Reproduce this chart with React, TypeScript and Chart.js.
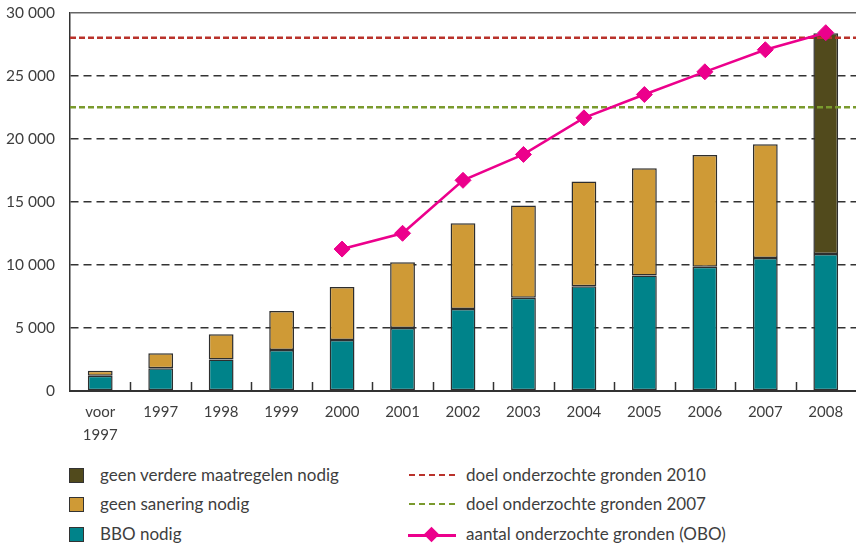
import React, { useEffect, useRef } from 'react';
import { Chart, registerables } from 'chart.js';

Chart.register(...registerables);

// ---- data ----
const categories: (string | string[])[] = [
  ['voor', '1997'], '1997', '1998', '1999', '2000', '2001', '2002',
  '2003', '2004', '2005', '2006', '2007', '2008',
];
const bboNodig = [1200, 1800, 2500, 3250, 4050, 5000, 6500, 7400, 8300, 9150, 9850, 10550, 10850];
const geenSanering = [400, 1200, 2000, 3100, 4200, 5200, 6800, 7300, 8300, 8500, 8850, 9000, null];
const geenVerdere = [null, null, null, null, null, null, null, null, null, null, null, null, 17500];
const onderzochteGronden = [null, null, null, null, 11250, 12500, 16700, 18750, 21650, 23500, 25300, 27050, 28400];
const doel2010 = 28000;
const doel2007 = 22500;
const yMin = 0;
const yMax = 30000;
const yStep = 5000;

const labels = {
  verdere: 'geen verdere maatregelen nodig',
  sanering: 'geen sanering nodig',
  bbo: 'BBO nodig',
  doel2010: 'doel onderzochte gronden 2010',
  doel2007: 'doel onderzochte gronden 2007',
  obo: 'aantal onderzochte gronden (OBO)',
};

const colors = {
  verdere: '#514a1c',
  sanering: '#cf9a36',
  bbo: '#00838a',
  doel2010: '#b9322b',
  doel2007: '#7a9a2e',
  obo: '#ec008c',
  barBorder: '#2e2e2e',
};

const FONT = 'Lato, "Open Sans", sans-serif';
const TEXT = '#3e3e3e';

const fmt = (v: number) => String(v).replace(/\B(?=(\d{3})+(?!\d))/g, ' ');

const innerTicks = {
  id: 'innerTicks',
  afterDatasetsDraw(chart: any) {
    const x = chart.scales.x;
    const area = chart.chartArea;
    const ctx = chart.ctx;
    ctx.save();
    ctx.strokeStyle = '#333';
    ctx.lineWidth = 1.5;
    for (let i = 1; i < categories.length; i++) {
      const px = Math.round((x.getPixelForValue(i - 1) + x.getPixelForValue(i)) / 2) + 0.5;
      ctx.beginPath();
      ctx.moveTo(px, area.bottom);
      ctx.lineTo(px, area.bottom - 9);
      ctx.stroke();
    }
    ctx.restore();
  },
};

export default function App() {
  const ref = useRef<HTMLCanvasElement>(null);

  useEffect(() => {
    if (!ref.current) return;
    const barCommon = {
      type: 'bar' as const,
      xAxisID: 'x',
      yAxisID: 'y',
      grouped: false,
      order: 2,
      borderColor: colors.barBorder,
      borderWidth: 1.5,
      borderSkipped: false,
      barPercentage: 0.41,
      categoryPercentage: 1,
    };
    const chart = new Chart(ref.current, {
      type: 'bar',
      data: {
        labels: categories,
        datasets: [
          {
            type: 'line',
            label: labels.obo,
            data: onderzochteGronden,
            xAxisID: 'x',
            yAxisID: 'y',
            stack: 'obo',
            order: 0,
            borderColor: colors.obo,
            backgroundColor: colors.obo,
            borderWidth: 2.5,
            pointStyle: 'rectRot',
            pointRadius: 8,
            pointBorderWidth: 1,
            pointBackgroundColor: colors.obo,
            pointBorderColor: colors.obo,
            spanGaps: false,
          },
          {
            type: 'line',
            label: labels.doel2010,
            data: [{ x: 0, y: doel2010 }, { x: 1, y: doel2010 }],
            xAxisID: 'x2',
            yAxisID: 'y',
            stack: 'd2010',
            order: 1,
            borderColor: colors.doel2010,
            borderWidth: 2.5,
            borderDash: [6, 3],
            pointRadius: 0,
          },
          {
            type: 'line',
            label: labels.doel2007,
            data: [{ x: 0, y: doel2007 }, { x: 1, y: doel2007 }],
            xAxisID: 'x2',
            yAxisID: 'y',
            stack: 'd2007',
            order: 1,
            borderColor: colors.doel2007,
            borderWidth: 2.5,
            borderDash: [6, 3],
            pointRadius: 0,
          },
          { ...barCommon, label: labels.bbo, data: bboNodig, backgroundColor: colors.bbo },
          { ...barCommon, label: labels.sanering, data: geenSanering, backgroundColor: colors.sanering },
          { ...barCommon, label: labels.verdere, data: geenVerdere, backgroundColor: colors.verdere },
        ],
      } as any,
      options: {
        animation: false,
        responsive: false,
        devicePixelRatio: 1,
        layout: { padding: { top: 12.5, right: 0, bottom: 0, left: 0 } },
        plugins: {
          legend: { display: false },
          tooltip: { enabled: false },
        },
        scales: {
          x: {
            type: 'category',
            stacked: true,
            offset: true,
            grid: { display: false, drawTicks: false },
            border: { display: true, color: '#333', width: 2 },
            ticks: {
              color: TEXT,
              font: { family: FONT, size: 15, lineHeight: 1.53 },
              padding: 9.5,
              maxRotation: 0,
              autoSkip: false,
            },
            afterFit: (s: any) => { s.height = 69; },
          },
          x2: {
            type: 'linear',
            display: false,
            offset: false,
            grid: { offset: false },
            min: 0,
            max: 1,
          },
          y: {
            type: 'linear',
            stacked: true,
            min: yMin,
            max: yMax,
            ticks: {
              stepSize: yStep,
              color: TEXT,
              font: { family: FONT, size: 15.5 },
              padding: 0,
              callback: (v: any) => fmt(Number(v)),
            },
            grid: {
              drawTicks: true,
              tickLength: 15,
              tickColor: 'rgba(0,0,0,0)',
              lineWidth: 1.5,
              color: (c: any) =>
                c.tick && c.tick.value === yMin ? 'rgba(0,0,0,0)' :
                c.tick && c.tick.value === yMax ? '#666' : '#333',
            },
            border: {
              display: true,
              color: '#333',
              width: 1.5,
              dash: (c: any) => (c.tick && c.tick.value === yMax ? [] : [8, 5]),
            },
            afterFit: (s: any) => { s.width = 70; },
          },
        },
      } as any,
      plugins: [innerTicks],
    });
    return () => chart.destroy();
  }, []);

  const rowTops = [465, 494, 524];
  const leftItems = [
    { label: labels.verdere, color: colors.verdere },
    { label: labels.sanering, color: colors.sanering },
    { label: labels.bbo, color: colors.bbo },
  ];
  const rightItems = [
    { label: labels.doel2010, color: colors.doel2010, kind: 'dash' },
    { label: labels.doel2007, color: colors.doel2007, kind: 'dash' },
    { label: labels.obo, color: colors.obo, kind: 'marker' },
  ];
  const textStyle: React.CSSProperties = {
    position: 'absolute',
    fontFamily: FONT,
    fontSize: 17,
    color: TEXT,
    lineHeight: '20px',
    whiteSpace: 'nowrap',
  };

  return (
    <div style={{ position: 'absolute', left: 0, top: 0, width: 856, height: 546, overflow: 'hidden', background: '#fff' }}>
      <canvas ref={ref} width={865} height={460} style={{ position: 'absolute', left: 0, top: 0, width: 865, height: 460 }} />
      {leftItems.map((it, i) => (
        <React.Fragment key={'l' + i}>
          <div style={{
            position: 'absolute', left: 69, top: rowTops[i] + 3, width: 13, height: 13,
            background: it.color, border: '1px solid #333', boxSizing: 'content-box',
          }} />
          <div style={{ ...textStyle, left: 100, top: rowTops[i] }}>{it.label}</div>
        </React.Fragment>
      ))}
      {rightItems.map((it, i) => (
        <React.Fragment key={'r' + i}>
          {it.kind === 'dash' ? (
            <div style={{
              position: 'absolute', left: 409, top: rowTops[i] + 9, width: 46, height: 0,
              borderTop: `2.5px dashed ${it.color}`,
            }} />
          ) : (
            <>
              <div style={{ position: 'absolute', left: 408, top: rowTops[i] + 10, width: 48, height: 2.5, background: it.color }} />
              <div style={{
                position: 'absolute', left: 426, top: rowTops[i] + 5, width: 11, height: 11,
                background: it.color, transform: 'rotate(45deg)',
              }} />
            </>
          )}
          <div style={{ ...textStyle, left: 466, top: rowTops[i] }}>{it.label}</div>
        </React.Fragment>
      ))}
    </div>
  );
}
